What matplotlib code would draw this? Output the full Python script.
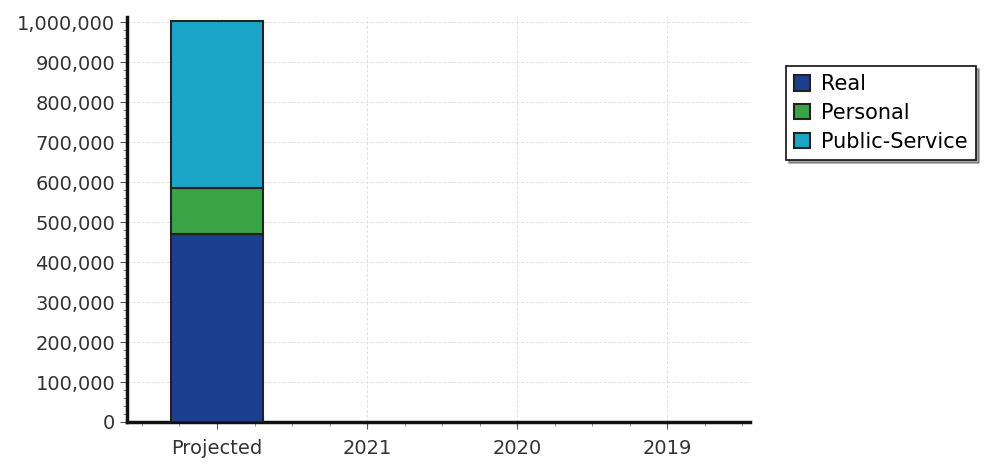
import numpy as np
import matplotlib
matplotlib.use("Agg")
import matplotlib.pyplot as plt
from matplotlib.ticker import FuncFormatter, MultipleLocator

# data
categories = ["Projected", "2021", "2020", "2019"]
real = [470000, 0, 0, 0]
personal = [115000, 0, 0, 0]
public_service = [420000, 0, 0, 0]

colors = {"Real": "#1c3f8e", "Personal": "#3aa346", "Public-Service": "#1ba6c9"}

fig = plt.figure(figsize=(9.84, 4.65), dpi=100)
ax = fig.add_axes([0.129, 0.0925, 0.633, 0.872])

x = np.arange(len(categories))
r = np.array(real)
p = np.array(personal)
s = np.array(public_service)
mask = (r + p + s) > 0

w = 0.61
ax.bar(x[mask], r[mask], w, color=colors["Real"], edgecolor="#222222", linewidth=1.5, label="Real", zorder=3)
ax.bar(x[mask], p[mask], w, bottom=r[mask], color=colors["Personal"], edgecolor="#222222", linewidth=1.5, label="Personal", zorder=3)
ax.bar(x[mask], s[mask], w, bottom=(r + p)[mask], color=colors["Public-Service"], edgecolor="#222222", linewidth=1.5, label="Public-Service", zorder=3)

ax.set_xlim(-0.6, 3.55)
ax.set_ylim(0, 1015000)
ax.set_xticks(x)
ax.set_xticklabels(categories)
ax.xaxis.set_minor_locator(MultipleLocator(0.25))
ax.set_yticks(np.arange(0, 1000001, 100000))
ax.yaxis.set_minor_locator(MultipleLocator(20000))
ax.yaxis.set_major_formatter(FuncFormatter(lambda v, pos: f"{int(v):,}"))

ax.grid(True, which="major", color="#e0e0e0", linestyle=(0, (3, 2)), linewidth=0.7, zorder=0)

for side in ["top", "right"]:
    ax.spines[side].set_visible(False)
for side in ["left", "bottom"]:
    ax.spines[side].set_linewidth(2.5)
    ax.spines[side].set_color("#111111")

ax.tick_params(axis="y", which="major", labelsize=14, labelcolor="#333333", length=5, color="#555555")
ax.tick_params(axis="x", which="major", labelsize=14, labelcolor="#333333", length=5, color="#555555", pad=7)
ax.tick_params(axis="both", which="minor", length=3, color="#777777")

leg = ax.legend(loc="upper left", bbox_to_anchor=(1.058, 0.878), fontsize=15, frameon=True,
                fancybox=False, shadow=True, borderpad=0.4, handlelength=0.75, handleheight=0.75,
                handletextpad=0.55, labelspacing=0.42, borderaxespad=0)
leg.get_frame().set_edgecolor("#111111")
leg.get_frame().set_linewidth(1.2)

fig.savefig("out.png", dpi=100)
